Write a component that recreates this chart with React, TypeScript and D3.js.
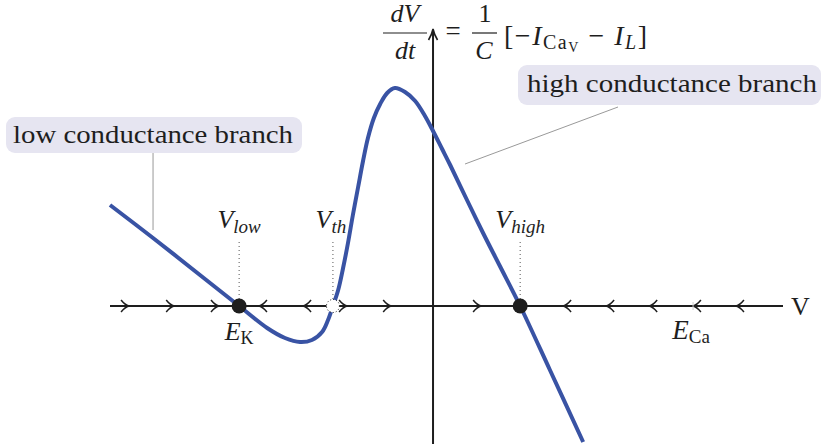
import React from "react";
import * as d3 from "d3";

// I–V curve samples: V (mV-like units), dV/dt (arbitrary units)
const curveV = [-92.3, -80, -66.6, -55.4, -47.4, -42.3, -38, -34.6, -31.7, -30, -28.6, -27.1, -25.7, -24.3, -22.9, -21.4, -20, -18.6, -16.9, -15.1, -13.1, -10.9, -8, -5.1, -2.3, 0, 2.6, 4.9, 9.7, 14.3, 19.1, 24.9, 33.4, 42.9];
const curveI = [50.5, 34, 15.5, 0, -11, -16, -18, -17, -13, -7, 0, 8, 19, 31.5, 45.5, 59.5, 72.5, 84, 94, 101, 106.5, 109, 107, 102.5, 95, 87.5, 78.5, 70.5, 53, 36.5, 20, 0, -32, -68];

// flow arrows on the V axis
const rightArrows = [-88, -75.1, -62.3, -25.7, -13.1, 12.6];
const leftArrows = [-48.6, -36, 38.3, 50.6, 62.9, 75.4, 87.7];

// special voltages
const V_low = -55.4;
const V_th = -28.6;
const V_high = 24.9;
const E_Ca = 74.3;

const X_DOMAIN: [number, number] = [-92.3, 100];
const Y_DOMAIN: [number, number] = [-69, 138];

const FONT = "'Liberation Serif', 'DejaVu Serif', serif";
const BLUE = "#3953a4";
const INK = "#1e1e1e";
const BOX = "#e6e5f1";

export default function App() {
  const x = d3.scaleLinear().domain(X_DOMAIN).range([110, 783]);
  const y = d3.scaleLinear().domain(Y_DOMAIN).range([444, 30]);
  const pts: [number, number][] = curveV.map((v, i) => [v, curveI[i]]);
  const line = d3
    .line<[number, number]>()
    .x((d) => x(d[0]))
    .y((d) => y(d[1]))
    .curve(d3.curveCatmullRom.alpha(0.5));

  const x0 = x(0);
  const y0 = y(0);

  const dotted = (v: number) => (
    <line
      x1={x(v)}
      x2={x(v)}
      y1={242}
      y2={y0 - 6}
      stroke="#555"
      strokeWidth={1}
      strokeDasharray="1,3"
    />
  );

  const T = { style: { fontFamily: FONT }, fill: INK } as const;

  return (
    <svg
      width={823}
      height={444}
      style={{ position: "absolute", left: 0, top: 0, background: "#fff" }}
    >
      {/* callout boxes */}
      <rect x={6} y={117} width={296} height={36} rx={9} fill={BOX} />
      <text x={13} y={143} fontSize={25} {...T} textLength={280} lengthAdjust="spacingAndGlyphs">
        low conductance branch
      </text>
      <line x1={x(-80)} x2={x(-80)} y1={153} y2={y(34) - 8} stroke="#999" strokeWidth={1} />

      <rect x={518} y={65} width={303} height={40} rx={9} fill={BOX} />
      <text x={527} y={92} fontSize={25} {...T} textLength={290} lengthAdjust="spacingAndGlyphs">
        high conductance branch
      </text>
      <line x1={618} y1={107} x2={x(0) + 32} y2={y(70.5) - 1} stroke="#999" strokeWidth={1} />

      {/* axes */}
      <line x1={x(X_DOMAIN[0])} x2={x(X_DOMAIN[1])} y1={y0} y2={y0} stroke={INK} strokeWidth={2} />
      <line x1={x0} x2={x0} y1={444} y2={31} stroke={INK} strokeWidth={2} />
      <path
        d={`M${x0 - 4.5},${40} Q${x0 - 1},${34} ${x0},${29} Q${x0 + 1},${34} ${x0 + 4.5},${40}`}
        fill="none"
        stroke={INK}
        strokeWidth={1.6}
      />

      {/* flow arrows */}
      {rightArrows.map((v, i) => (
        <path
          key={"r" + i}
          d={`M${x(v) - 4},${y0 - 6} Q${x(v)},${y0 - 1} ${x(v) + 4},${y0} Q${x(v)},${y0 + 1} ${x(v) - 4},${y0 + 6}`}
          fill="none"
          stroke={INK}
          strokeWidth={1.5}
        />
      ))}
      {leftArrows.map((v, i) => (
        <path
          key={"l" + i}
          d={`M${x(v) + 4},${y0 - 6} Q${x(v)},${y0 - 1} ${x(v) - 4},${y0} Q${x(v)},${y0 + 1} ${x(v) + 4},${y0 + 6}`}
          fill="none"
          stroke={INK}
          strokeWidth={1.5}
        />
      ))}
      <line x1={x(E_Ca)} x2={x(E_Ca)} y1={y0 - 4} y2={y0 + 4} stroke="#ccc" strokeWidth={1} />

      {/* dotted guides */}
      {dotted(V_low)}
      {dotted(V_th)}
      {dotted(V_high)}

      {/* curve */}
      <path d={line(pts) || ""} fill="none" stroke={BLUE} strokeWidth={4} strokeLinecap="butt" />

      {/* fixed points */}
      <circle cx={x(V_low)} cy={y0} r={7.5} fill={INK} />
      <circle cx={x(V_high)} cy={y0} r={7.5} fill={INK} />
      <circle cx={x(V_th)} cy={y0} r={6.5} fill="#fff" stroke={INK} strokeWidth={1} strokeDasharray="1,2" />

      {/* labels */}
      <text x={x(V_low)} y={228} fontSize={26} {...T} textAnchor="middle">
        <tspan fontStyle="italic">V</tspan>
        <tspan fontStyle="italic" fontSize={19} dy={5}>low</tspan>
      </text>
      <text x={x(V_th) - 2} y={228} fontSize={26} {...T} textAnchor="middle">
        <tspan fontStyle="italic">V</tspan>
        <tspan fontStyle="italic" fontSize={19} dy={5}>th</tspan>
      </text>
      <text x={x(V_high)} y={228} fontSize={26} {...T} textAnchor="middle">
        <tspan fontStyle="italic">V</tspan>
        <tspan fontStyle="italic" fontSize={19} dy={5}>high</tspan>
      </text>
      <text x={x(V_low)} y={340} fontSize={26} {...T} textAnchor="middle">
        <tspan fontStyle="italic">E</tspan>
        <tspan fontSize={18} dy={4}>K</tspan>
      </text>
      <text x={x(E_Ca) - 2} y={339} fontSize={27} {...T} textAnchor="middle">
        <tspan fontStyle="italic">E</tspan>
        <tspan fontSize={19} dy={4}>Ca</tspan>
      </text>
      <text x={791} y={315} fontSize={26} {...T}>V</text>

      {/* equation */}
      <text x={405} y={22} fontSize={26} {...T} fontStyle="italic" textAnchor="middle">dV</text>
      <line x1={383} x2={427} y1={33} y2={33} stroke={INK} strokeWidth={1.2} />
      <text x={405} y={59} fontSize={26} {...T} fontStyle="italic" textAnchor="middle">dt</text>
      <text x={453} y={40} fontSize={27} {...T} textAnchor="middle">=</text>
      <text x={485} y={22} fontSize={26} {...T} textAnchor="middle">1</text>
      <line x1={472} x2={497} y1={33} y2={33} stroke={INK} strokeWidth={1.2} />
      <text x={484} y={59} fontSize={26} {...T} fontStyle="italic" textAnchor="middle">C</text>
      <text x={504} y={45} fontSize={28} {...T} textLength={143} lengthAdjust="spacing">
        <tspan>[−</tspan>
        <tspan fontStyle="italic">I</tspan>
        <tspan fontSize={20} dy={4}>Ca</tspan>
        <tspan fontSize={14} dy={3}>V</tspan>
        <tspan dy={-7}> − </tspan>
        <tspan fontStyle="italic">I</tspan>
        <tspan fontStyle="italic" fontSize={20} dy={4}>L</tspan>
        <tspan dy={-4}>]</tspan>
      </text>
    </svg>
  );
}
